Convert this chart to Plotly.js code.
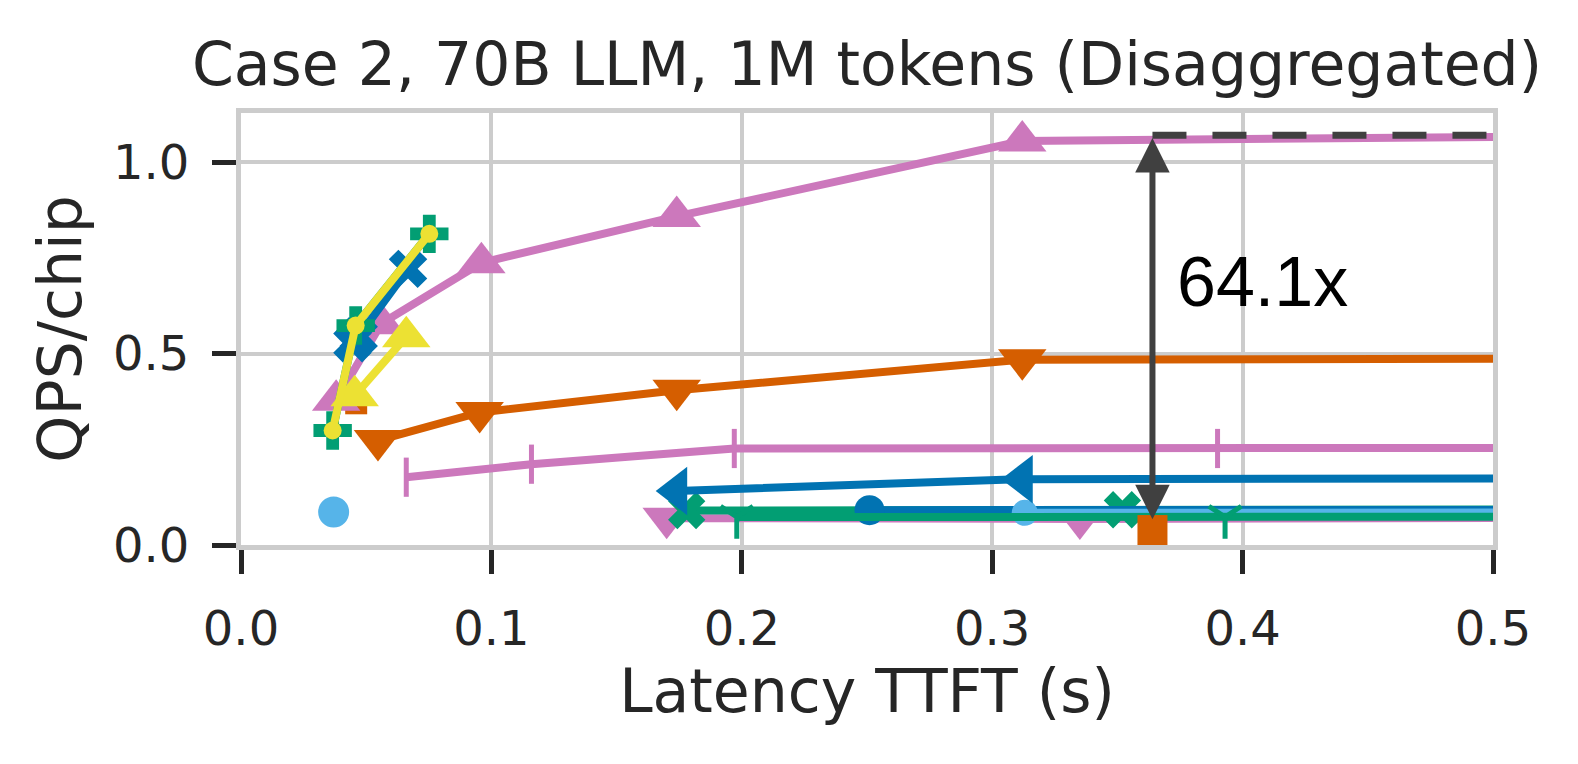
<!DOCTYPE html>
<html>
<head>
<meta charset="utf-8">
<script src="https://cdn.plot.ly/plotly-3.0.1.min.js"></script>
<style>html,body{margin:0;padding:0;background:#fff;}#chart{width:1578px;height:764px;}</style>
</head>
<body>
<div id="chart"></div>
<script>
// ---- data ----
const titleText = 'Case 2, 70B LLM, 1M tokens (Disaggregated)';
const xTitle = 'Latency TTFT (s)';
const yTitle = 'QPS/chip';
const xTickVals = [0.0, 0.1, 0.2, 0.3, 0.4, 0.5];
const yTickVals = [0.0, 0.5, 1.0];

const lightBlueSoloX = [0.037];
const lightBlueSoloY = [0.086];

const orangeSqSmallX = [0.046];
const orangeSqSmallY = [0.37];

const pinkDownX = [0.170, 0.335, 0.62];
const pinkDownY = [0.070, 0.068, 0.072];

const greenXx = [0.178, 0.352, 0.62];
const greenXy = [0.090, 0.092, 0.094];

const darkBlueCircX = [0.251, 0.62];
const darkBlueCircY = [0.091, 0.092];

const lightBlueX = [0.313, 0.62];
const lightBlueY = [0.084, 0.085];

const greenTriX = [0.198, 0.393, 0.62];
const greenTriY = [0.073, 0.073, 0.074];

const blueLeftX = [0.174, 0.312, 0.62];
const blueLeftY = [0.141, 0.172, 0.175];

const pinkBarX = [0.066, 0.116, 0.197, 0.390, 0.62];
const pinkBarY = [0.177, 0.211, 0.252, 0.252, 0.254];

const orangeDownX = [0.0547, 0.0953, 0.174, 0.312, 0.62];
const orangeDownY = [0.273, 0.346, 0.404, 0.484, 0.488];

const pinkUpX = [0.038, 0.056, 0.096, 0.174, 0.312, 0.62];
const pinkUpY = [0.378, 0.578, 0.737, 0.858, 1.055, 1.072];

const blueXx = [0.0445, 0.047, 0.0667];
const blueXy = [0.527, 0.545, 0.721];

const greenPx = [0.0366, 0.0458, 0.0752];
const greenPy = [0.299, 0.573, 0.8125];

const yellowTriX = [0.0454, 0.066];
const yellowTriY = [0.390, 0.544];

const yellowCircX = [0.0366, 0.0458, 0.0752];
const yellowCircY = [0.299, 0.573, 0.8125];

const orangeSqX = [0.364];
const orangeSqY = [0.039];

const refLineX = [0.364, 0.5];
const refLineY = [1.070, 1.070];

const arrowX = 0.364;
const arrowTopY = 1.063;
const arrowBottomY = 0.063;
const ratioLabel = '64.1x';
const ratioLabelX = 0.373;
const ratioLabelY = 0.688;

// ---- styling ----
const C = {
  blue: '#0173B2', orange: '#D55E00', green: '#029E73', pink: '#CC78BC',
  yellow: '#ECE133', lightblue: '#56B4E9', dark: '#404040'
};
const LW = 8;
const TRI = 42;

function tr(x, y, color, symbol, size, opts) {
  opts = opts || {};
  const t = {
    x: x, y: y, type: 'scatter', mode: opts.mode || 'lines+markers',
    line: {color: color, width: opts.lw !== undefined ? opts.lw : LW},
    marker: {color: color, symbol: symbol, size: size, line: {width: 0}},
    showlegend: false, hoverinfo: 'skip'
  };
  if (opts.mline) t.marker.line = {width: opts.mline, color: color};
  return t;
}

const traces = [
  tr(lightBlueSoloX, lightBlueSoloY, C.lightblue, 'circle', 31, {mode: 'markers'}),
  tr(orangeSqSmallX, orangeSqSmallY, C.orange, 'square', 22, {mode: 'markers'}),
  tr(pinkDownX, pinkDownY, C.pink, 'triangle-down', TRI),
  tr(greenXx, greenXy, C.green, 'x', 33),
  tr(darkBlueCircX, darkBlueCircY, C.blue, 'circle', 30),
  tr(lightBlueX, lightBlueY, C.lightblue, 'circle', 26),
  tr(greenTriX, greenTriY, C.green, 'y-down', 27, {mline: 5}),
  tr(blueLeftX, blueLeftY, C.blue, 'triangle-left', TRI),
  tr(pinkBarX, pinkBarY, C.pink, 'line-ns', 28, {mline: 5}),
  tr(orangeDownX, orangeDownY, C.orange, 'triangle-down', TRI),
  tr(pinkUpX, pinkUpY, C.pink, 'triangle-up', TRI),
  tr(blueXx, blueXy, C.blue, 'x', 34),
  tr(greenPx, greenPy, C.green, 'cross', 32),
  tr(yellowTriX, yellowTriY, C.yellow, 'triangle-up', TRI),
  tr(yellowCircX, yellowCircY, C.yellow, 'circle', 18),
  tr(orangeSqX, orangeSqY, C.orange, 'square', 30, {mode: 'markers'}),
  {x: refLineX, y: refLineY, type: 'scatter', mode: 'lines',
   line: {color: C.dark, width: 7, dash: '34px,26px'}, showlegend: false, hoverinfo: 'skip'}
];

const axisCommon = {
  showline: true, mirror: true, linecolor: '#cccccc', linewidth: 5,
  showgrid: true, gridcolor: '#cccccc', gridwidth: 4,
  zeroline: false, ticks: 'outside', ticklen: 24, tickwidth: 5, tickcolor: '#262626',
  tickfont: {family: 'DejaVu Sans', size: 48, color: '#262626'},
  ticklabelstandoff: 13, automargin: false
};

const layout = {
  width: 1578, height: 764,
  paper_bgcolor: '#ffffff', plot_bgcolor: '#ffffff',
  margin: {l: 241, r: 85, t: 113, b: 219},
  title: {text: titleText, font: {family: 'DejaVu Sans', size: 60, color: '#262626'},
          x: 0.5, xref: 'paper', y: 1 - 64/764, yref: 'container', yanchor: 'middle'},
  xaxis: Object.assign({}, axisCommon, {
    range: [0, 0.5], tickvals: xTickVals, tickformat: '.1f',
    title: {text: xTitle, font: {family: 'DejaVu Sans', size: 60, color: '#262626'}, standoff: 14}
  }),
  yaxis: Object.assign({}, axisCommon, {
    range: [0, 1.128], tickvals: yTickVals, tickformat: '.1f',
    title: {text: yTitle, font: {family: 'DejaVu Sans', size: 60, color: '#262626'}, standoff: 14}
  }),
  annotations: [
    {x: arrowX, y: arrowTopY, ax: arrowX, ay: arrowBottomY, xref: 'x', yref: 'y', axref: 'x', ayref: 'y',
     text: '', showarrow: true, arrowside: 'end+start', arrowhead: 2, startarrowhead: 2,
     arrowsize: 1.15, startarrowsize: 1.15, arrowwidth: 6, arrowcolor: C.dark, standoff: 0, startstandoff: 0},
    {x: ratioLabelX, y: ratioLabelY, xref: 'x', yref: 'y', text: ratioLabel, showarrow: false,
     xanchor: 'left', yanchor: 'middle', font: {family: 'Liberation Sans', size: 70, color: '#000000'}}
  ]
};

Plotly.newPlot('chart', traces, layout, {staticPlot: true, displayModeBar: false});
</script>
</body>
</html>
